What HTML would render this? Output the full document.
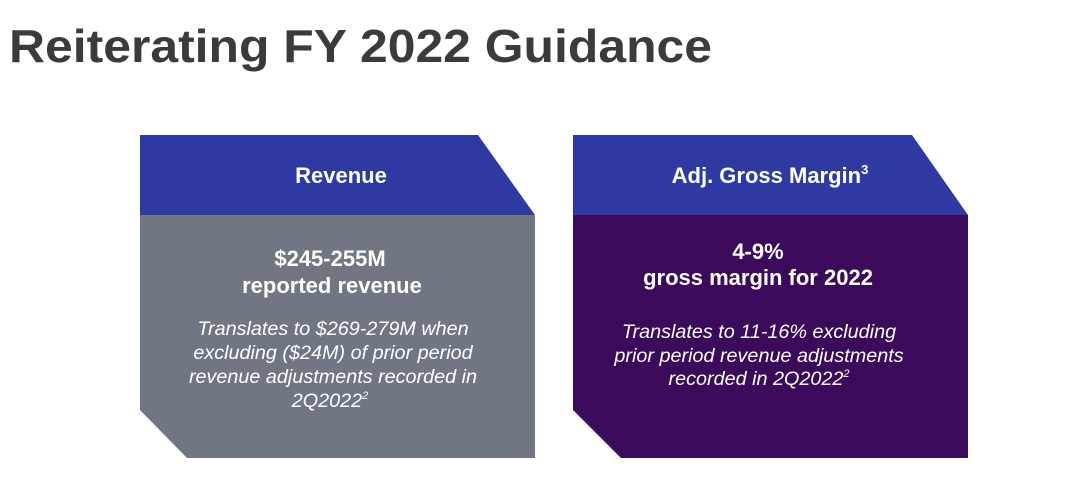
<!DOCTYPE html>
<html><head><meta charset="utf-8"><style>
html,body{margin:0;padding:0;background:#fff;}
svg{display:block;font-family:"Liberation Sans",Arial,sans-serif;}
</style></head><body>
<svg width="1080" height="485" viewBox="0 0 1080 485">
<text x="9" y="62" font-size="46" font-weight="bold" fill="#3b3b3d" textLength="703" lengthAdjust="spacingAndGlyphs">Reiterating FY 2022 Guidance</text>

<polygon points="140,135 478,135 535,215 140,215" fill="#2e3aa1"/>
<polygon points="140,215 535,215 535,458 187,458 140,410" fill="#717782"/>
<g fill="#fff" text-anchor="middle">
<text x="341" y="183" font-size="22" font-weight="bold">Revenue</text>
<text x="330" y="266" font-size="22" font-weight="bold">$245-255M</text>
<text x="332" y="293" font-size="22" font-weight="bold">reported revenue</text>
<g font-size="19.8" font-style="italic">
<text x="333" y="335">Translates to $269-279M when</text>
<text x="333" y="359">excluding ($24M) of prior period</text>
<text x="333" y="383">revenue adjustments recorded in</text>
<text x="330" y="407">2Q2022<tspan font-size="11" dy="-8">2</tspan></text>
</g>
</g>

<polygon points="573,135 912,135 968,215 573,215" fill="#2e3aa1"/>
<polygon points="573,215 968,215 968,458 621,458 573,410" fill="#3b0a5a"/>
<g fill="#fff" text-anchor="middle">
<text x="770" y="183" font-size="22" font-weight="bold">Adj. Gross Margin<tspan font-size="13" dy="-9">3</tspan></text>
<text x="758" y="259" font-size="22" font-weight="bold">4-9%</text>
<text x="758" y="285" font-size="22" font-weight="bold">gross margin for 2022</text>
<g font-size="19.8" font-style="italic">
<text x="759" y="338">Translates to 11-16% excluding</text>
<text x="759" y="362">prior period revenue adjustments</text>
<text x="759" y="385">recorded in 2Q2022<tspan font-size="11" dy="-8">2</tspan></text>
</g>
</g>
</svg>
</body></html>
